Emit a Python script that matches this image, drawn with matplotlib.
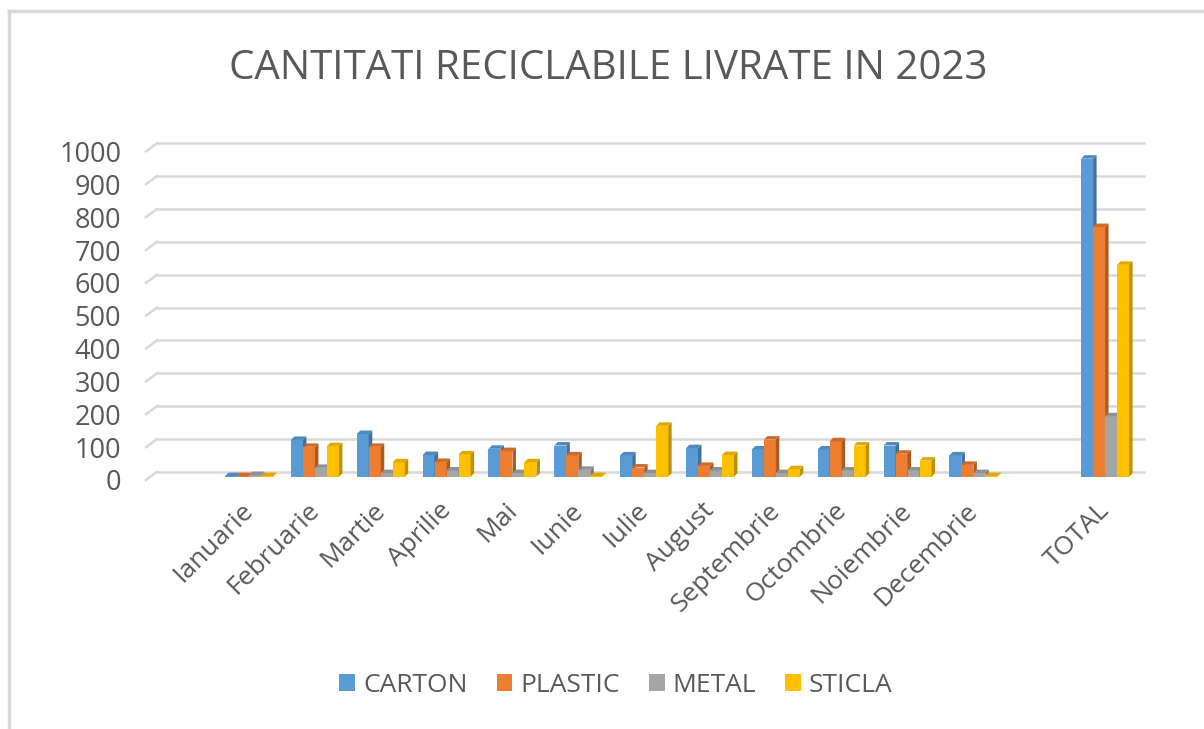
import numpy as np
import matplotlib
matplotlib.use("Agg")
import matplotlib.pyplot as plt
import matplotlib.transforms as mtransforms
from matplotlib.patches import Patch
from matplotlib.lines import Line2D

# date
luni = ["", "Ianuarie", "Februarie", "Martie", "Aprilie", "Mai", "Iunie", "Iulie",
        "August", "Septembrie", "Octombrie", "Noiembrie", "Decembrie", "", "TOTAL"]
serii = ["CARTON", "PLASTIC", "METAL", "STICLA"]
carton = [0, 2, 112, 130, 66, 85, 95, 65, 87, 83, 83, 95, 65, 0, 968]
plastic = [0, 2, 91, 91, 45, 78, 65, 28, 33, 113, 108, 70, 36, 0, 760]
metal = [0, 5, 27, 11, 19, 11, 21, 11, 19, 11, 19, 19, 11, 0, 184]
sticla = [0, 2, 93, 44, 68, 44, 2, 155, 66, 23, 95, 49, 2, 0, 645]
yticks = [0, 100, 200, 300, 400, 500, 600, 700, 800, 900, 1000]

culori = ["#5B9BD5", "#ED7D31", "#A5A5A5", "#FFC000"]
laterale = ["#41719C", "#AE5A21", "#7C7C7C", "#BF9000"]
capace = ["#4F89C0", "#D06A28", "#909090", "#E0A800"]
text_col = "#595959"
grid_col = "#D9D9D9"

plt.rcParams["font.family"] = ["Open Sans", "DejaVu Sans"]

W, H = 1204, 729
fig = plt.figure(figsize=(W / 100, H / 100), dpi=100)

# zona de desen (pixeli)
x_left, x_right = 150.3, 1138.0
y_zero, px_per_unit = 480.0, 0.3317
ymax = 1050
ax = fig.add_axes([x_left / W, (H - y_zero) / H, (x_right - x_left) / W, ymax * px_per_unit / H])
ax.set_xlim(-0.5, len(luni) - 0.5)
ax.set_ylim(0, ymax)
for s in ax.spines.values():
    s.set_visible(False)

cat_px = (x_right - x_left) / len(luni)
dx = 3.5 / cat_px
dy = 3.5 / px_per_unit
w = 12.0 / cat_px

# grila "3D" (perete spate + colt)
back_off, front_off = 15, -10
xf = (146 - x_left) / cat_px - 0.5
xb = (157 - x_left) / cat_px - 0.5
xe = (1144 - x_left) / cat_px - 0.5
for v in yticks:
    ax.plot([xb, xe], [v + back_off, v + back_off], color=grid_col, lw=1.8, zorder=1, clip_on=False)
    ax.plot([xf, xb], [v + front_off, v + back_off], color=grid_col, lw=1.8, zorder=1, clip_on=False)

# coloane cu fata laterala si capac
x = np.arange(len(luni))
valori = [carton, plastic, metal, sticla]
for j, vals in enumerate(valori):
    xs = x + (j - 1.5) * w
    ax.bar(xs, vals, width=w, color=culori[j], zorder=3 + j, linewidth=0)
    for xc, v in zip(xs, vals):
        if v <= 0:
            continue
        x0, x1 = xc - w / 2, xc + w / 2
        ax.fill([x1, x1 + dx, x1 + dx, x1], [0, dy, v + dy, v], color=laterale[j], lw=0, zorder=3 + j)
        ax.fill([x0, x0 + dx, x1 + dx, x1], [v, v + dy, v + dy, v], color=capace[j], lw=0, zorder=3 + j)

ax.set_yticks([v - 10 for v in yticks], labels=[str(v) for v in yticks])
ax.set_xticks(x, labels=luni)
ax.tick_params(axis="y", length=0, pad=21, labelsize=19.5, labelcolor=text_col)
ax.tick_params(axis="x", length=0, pad=13, labelsize=19, labelcolor=text_col)
shift = mtransforms.ScaledTranslation(-8 / 100, 0, fig.dpi_scale_trans)
for lbl in ax.get_xticklabels():
    lbl.set_rotation(45)
    lbl.set_ha("right")
    lbl.set_rotation_mode("anchor")
    lbl.set_transform(lbl.get_transform() + shift)

fig.text(608 / W, 1 - 69 / H, "CANTITATI RECICLABILE LIVRATE IN 2023", ha="center", va="center",
         fontsize=29, color=text_col)

handles = [Patch(facecolor=c, edgecolor="none") for c in culori]
fig.legend(handles, serii, loc="center", bbox_to_anchor=(616 / W, 1 - 685 / H), ncol=4,
           frameon=False, fontsize=19, labelcolor=text_col, handlelength=0.6, handleheight=0.6,
           handletextpad=0.3, columnspacing=1.1)

# chenar
fig.add_artist(Line2D([9 / W, 9 / W], [0, 1 - 11 / H], color=grid_col, lw=2.5))
fig.add_artist(Line2D([9 / W, 1], [1 - 11 / H, 1 - 11 / H], color=grid_col, lw=2.5))

fig.savefig("out.png", dpi=100)
